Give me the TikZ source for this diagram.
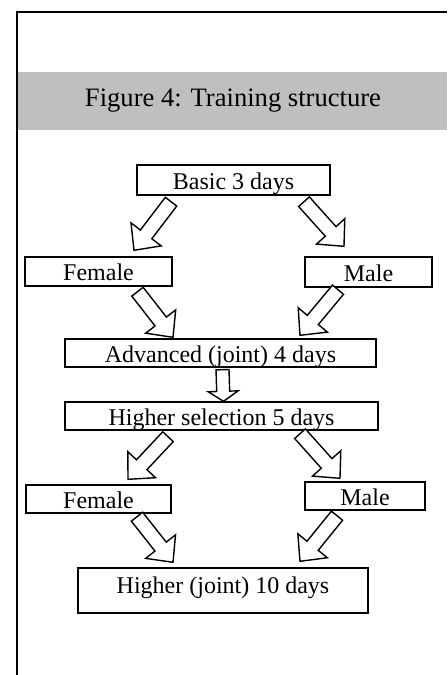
\documentclass[tikz,border=0pt]{standalone}
\usepackage{fontspec}
\setmainfont{Liberation Serif}
\usetikzlibrary{calc}
\definecolor{bandgray}{RGB}{191,191,191}
\tikzset{
	box/.style={draw, line width=0.7pt, inner sep=0pt, text height=11pt, text depth=2pt, font=\fontsize{12}{14}\selectfont},
	arrowline/.style={draw, line width=0.7pt, fill=white, line join=miter},
}
% hollow block arrow: shaft half width, head half width, head length, from, to
\newcommand{\blockarrow}[5]{
	\coordinate (ta) at (#4);
	\coordinate (tb) at (#5);
	\coordinate (hb) at ($(tb)!#3!(ta)$);
	\path[arrowline] ($(ta)!#1!90:(tb)$) -- ($(hb)!#1!90:(tb)$) -- ($(hb)!#2!90:(tb)$) -- (tb)
		-- ($(hb)!#2!-90:(tb)$) -- ($(hb)!#1!-90:(tb)$) -- ($(ta)!#1!-90:(tb)$) -- cycle;
}
\begin{document}
\begin{tikzpicture}[x=0.5pt, y=-0.5pt]
		\useasboundingbox (0,0) rectangle (447,675);
		\fill[bandgray] (17,72) rectangle (447,130);
		\draw[line width=0.8pt] (447,12) -- (17,12) -- (17,675);
		\node (title) at (233,101) {\fontsize{13.3}{16}\selectfont Figure 4: Training structure};
		\node[box, minimum width=96.5pt, minimum height=15pt] (basic) at (233.5,180) {Basic 3 days};
		\node[box, minimum width=73.5pt, minimum height=14.5pt] (female1) at (98.5,271.5) {Female};
		\node[box, minimum width=63.5pt, minimum height=15pt] (male1) at (368.5,272) {Male};
		\node[box, minimum width=155.5pt, minimum height=14pt] (advanced) at (220.5,353) {Advanced (joint) 4 days};
		\node[box, minimum width=156.5pt, minimum height=14pt] (highsel) at (221.5,416) {Higher selection 5 days};
		\node[box, minimum width=72.5pt, minimum height=14pt] (female2) at (98.5,499) {Female};
		\node[box, minimum width=60pt, minimum height=14pt] (male2) at (365,496) {Male};
		\node[box, minimum width=145pt, minimum height=22.5pt, text height=5.8pt, text depth=3pt] (higher) at (223,590.5) {Higher (joint) 10 days};
		\blockarrow{3.6pt}{9.5pt}{10pt}{[shift={(-62.5,6)}]basic.south}{[shift={(35.5,-6)}]female1.north}
		\blockarrow{3.6pt}{9.5pt}{10pt}{[shift={(70.5,6)}]basic.south}{[shift={(-24.5,-10)}]male1.north}
		\blockarrow{3.6pt}{9.5pt}{10pt}{[shift={(39,5)}]female1.south}{[shift={(-47.5,-1)}]advanced.north}
		\blockarrow{3.6pt}{9.5pt}{10pt}{[shift={(-30.5,2)}]male1.south}{[shift={(79.5,-3)}]advanced.north}
		\blockarrow{3.25pt}{7.5pt}{5pt}{[shift={(2,2)}]advanced.south}{[shift={(2,0)}]highsel.north}
		\blockarrow{3.6pt}{9.5pt}{10pt}{[shift={(-53.5,6)}]highsel.south}{[shift={(29.5,-5)}]female2.north}
		\blockarrow{3.6pt}{9.5pt}{10pt}{[shift={(78.5,3)}]highsel.south}{[shift={(-25,-3)}]male2.north}
		\blockarrow{3.6pt}{9.5pt}{10pt}{[shift={(38.5,3)}]female2.south}{[shift={(-50,-5)}]higher.north}
		\blockarrow{3.6pt}{9.5pt}{10pt}{[shift={(-28,5)}]male2.south}{[shift={(77,-6)}]higher.north}
\end{tikzpicture}
\end{document}
